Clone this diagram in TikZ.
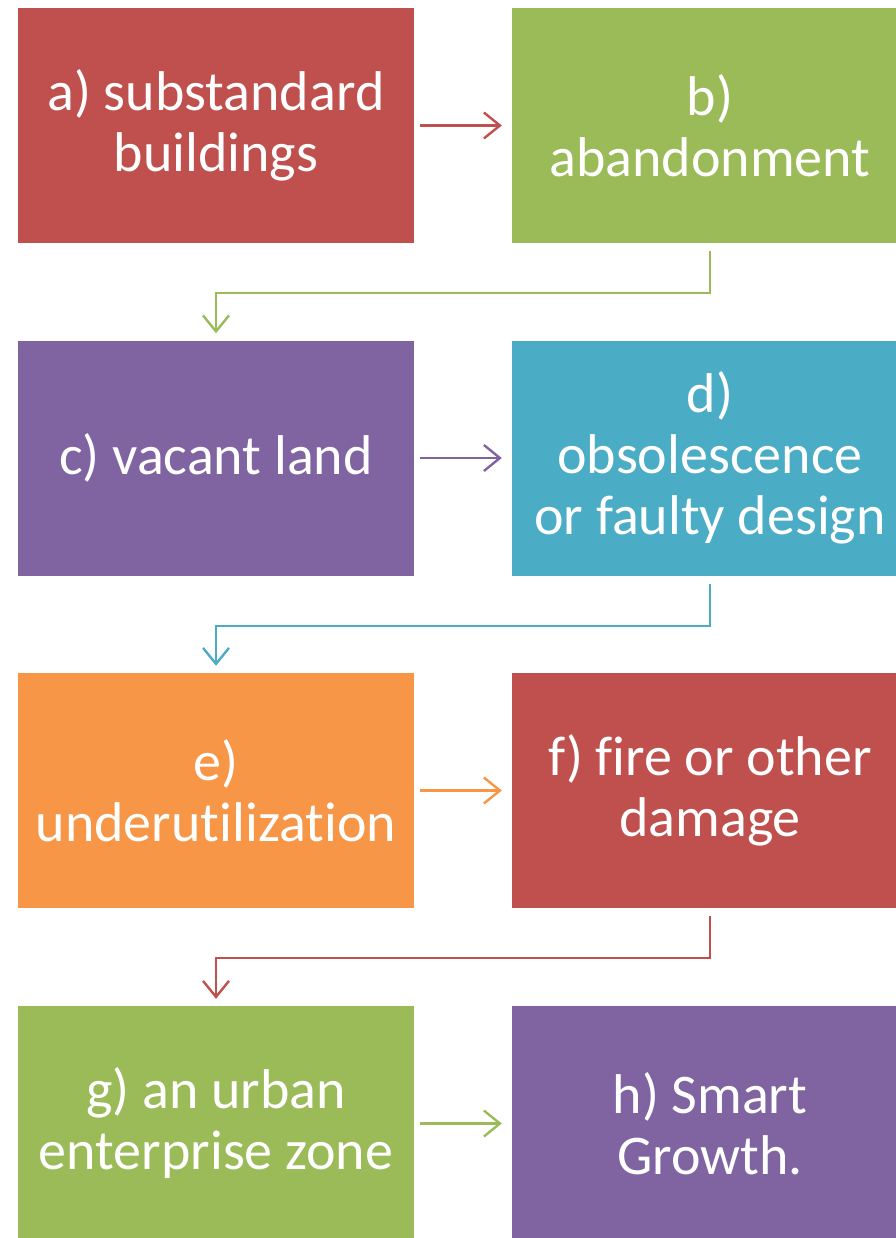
\documentclass[tikz,border=0pt]{standalone}
\usepackage{fontspec}
\setmainfont{Carlito}[RawFeature={-liga;-calt;-dlig}]
\usetikzlibrary{arrows.meta}
\definecolor{cred}{HTML}{C0504D}
\definecolor{cgreen}{HTML}{9BBB59}
\definecolor{cpurple}{HTML}{8064A2}
\definecolor{cblue}{HTML}{4BACC6}
\definecolor{corange}{HTML}{F79646}
\tikzset{
  box/.style={rectangle, fill=#1, draw=none, minimum width=396pt, minimum height=235pt,
    inner sep=0pt, text=white, align=center, font=\fontsize{56}{61}\selectfont},
  conn/.style={draw=#1, line width=2.4pt, -{Straight Barb[length=16pt,width=26pt,line width=2.4pt]}}
}
\begin{document}
\begin{tikzpicture}[x=1pt,y=1pt]
\useasboundingbox (0,0) rectangle (895,-1238);
\node[box=cred]    (a) at (216,-125.5) {a) substandard\\buildings};
\node[box=cgreen]  (b) at (710,-125.5) {b)\\abandonment};
\node[box=cpurple] (c) at (216,-458) {c) vacant land};
\node[box=cblue]   (d) at (710,-458) {d)\\obsolescence\\or faulty design};
\node[box=corange] (e) at (216,-790.5) {e)\\underutilization};
\node[box=cred]    (f) at (710,-790.5) {f) fire or other\\damage};
\node[box=cgreen]  (g) at (216,-1123.5) {g) an urban\\enterprise zone};
\node[box=cpurple] (h) at (710,-1123.5) {h) Smart\\Growth.};
\draw[conn=cred]    ([xshift=6pt]a.east) -- ([xshift=-10pt]b.west);
\draw[conn=cgreen]  ([yshift=-8pt]b.south) -- ++(0,-42) -| ([yshift=7pt]c.north);
\draw[conn=cpurple] ([xshift=6pt]c.east) -- ([xshift=-10pt]d.west);
\draw[conn=cblue]   ([yshift=-8pt]d.south) -- ++(0,-42) -| ([yshift=7pt]e.north);
\draw[conn=corange] ([xshift=6pt]e.east) -- ([xshift=-10pt]f.west);
\draw[conn=cred]    ([yshift=-8pt]f.south) -- ++(0,-42) -| ([yshift=7pt]g.north);
\draw[conn=cgreen]  ([xshift=6pt]g.east) -- ([xshift=-10pt]h.west);
\end{tikzpicture}
\end{document}
